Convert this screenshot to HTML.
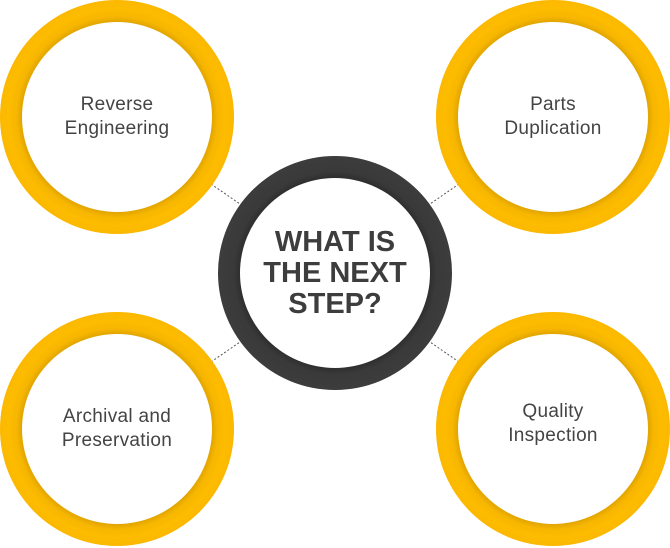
<!DOCTYPE html>
<html><head><meta charset="utf-8"><style>
html,body{margin:0;padding:0;background:#fff;}
body{width:670px;height:548px;position:relative;overflow:hidden;font-family:"Liberation Sans",sans-serif;}
.ring{position:absolute;width:234px;height:234px;border-radius:50%;background:radial-gradient(circle closest-side,#e0a400 0,#e0a400 81%,#f7b600 86%,#fdbc00 93%,#fbb800 100%);}
.inner{position:absolute;left:22px;top:22px;width:190px;height:190px;border-radius:50%;background:#fff;display:flex;align-items:center;justify-content:center;text-align:center;color:#444;font-size:19px;line-height:24px;letter-spacing:0.3px;}
.dark{background:radial-gradient(circle closest-side,#2e2e2e 0,#2e2e2e 81%,#3a3a3a 87%,#3c3c3c 100%);}
.dark .inner{font-weight:bold;font-size:29px;line-height:31px;color:#3d3d3d;letter-spacing:0;}
svg{position:absolute;left:0;top:0;}
</style></head><body>
<svg width="670" height="548"><g stroke="#555" stroke-width="1" stroke-dasharray="2,2">
<line x1="211" y1="184" x2="240" y2="204"/><line x1="459" y1="184" x2="430" y2="204"/>
<line x1="211" y1="362" x2="240" y2="342"/><line x1="459" y1="362" x2="430" y2="342"/></g></svg>
<div class="ring" style="left:0;top:0"><div class="inner">Reverse<br>Engineering</div></div>
<div class="ring" style="left:436px;top:0"><div class="inner">Parts<br>Duplication</div></div>
<div class="ring" style="left:0;top:312px"><div class="inner">Archival and<br>Preservation</div></div>
<div class="ring" style="left:436px;top:312px"><div class="inner" style="padding-bottom:10px;box-sizing:border-box">Quality<br>Inspection</div></div>
<div class="ring dark" style="left:218px;top:156px"><div class="inner">WHAT IS<br>THE NEXT<br>STEP?</div></div>
</body></html>
